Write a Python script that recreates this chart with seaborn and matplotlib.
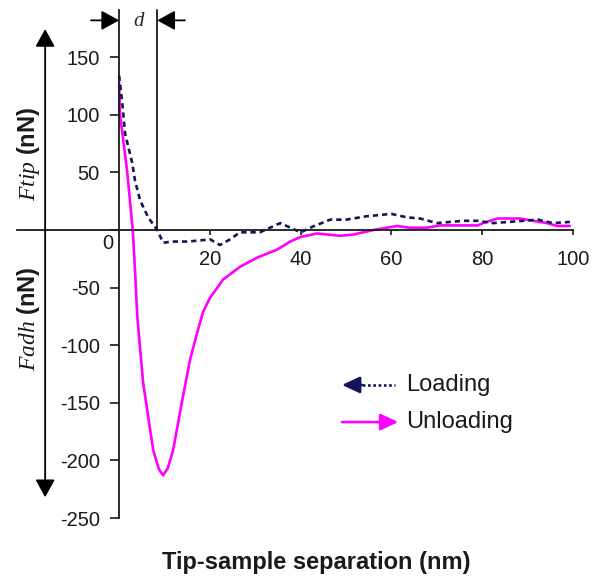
import matplotlib
matplotlib.use("Agg")
import matplotlib.pyplot as plt
import seaborn as sns
import pandas as pd

# --- valores (separação em nm, força em nN) ---
loading_x = [0, 0.7, 1.3, 2.9, 3.5, 4.6, 6.4, 8.4, 9.7, 12, 15, 18, 20, 22.2, 24.5, 26.6,
             31, 35.5, 40, 42.7, 46.5, 50, 54.6, 60, 63.4, 66.3, 70, 72.9, 75.8, 78.9,
             82.4, 85.7, 89, 92.3, 95.6, 99.3]
loading_y = [134, 110, 84, 58, 43, 26, 11, 0, -11, -10, -10, -9, -8, -13, -8, -2,
             -2, 6, -2, 3, 9, 9, 12, 14, 11, 10, 6, 7, 8, 8,
             6, 7, 8, 9, 6, 7]

unloading_x = [0, 0.2, 1.8, 3.0, 3.5, 4, 5.3, 7.5, 8.8, 9.7, 10.7, 11.9, 13.9, 15.6, 17.2,
               18.5, 20, 22.9, 26.6, 30.4, 34.8, 37.7, 40, 43.6, 48.7, 51.5, 56, 61.2, 64,
               67.8, 70.7, 79, 80.2, 83.3, 88.3, 91.2, 94.3, 96.5, 99.3]
unloading_y = [128, 100, 50, 0, -35, -75, -133, -191, -208, -213, -207, -191, -148, -113, -89,
               -71, -59, -43, -32, -24, -17, -10, -6, -3, -5, -4, 0, 3.5, 2,
               2, 4, 4, 6, 10, 10, 8, 6, 3.5, 3.5]

x_ticks = [20, 40, 60, 80, 100]
y_ticks = [-250, -200, -150, -100, -50, 0, 50, 100, 150]
d_gap = 8.4

legend_labels = ['Loading', 'Unloading']

# --- estilo ---
sns.set_theme(style="ticks")
plt.rcParams['font.family'] = ['Liberation Sans', 'DejaVu Sans']
plt.rcParams['mathtext.fontset'] = 'custom'
plt.rcParams['mathtext.it'] = 'Liberation Serif:italic'

navy = '#14145a'
magenta = '#ff00ff'
ink = '#1a1a1a'

fig = plt.figure(figsize=(6, 5.79), dpi=100)
ax = fig.add_axes([17 / 600, 61 / 579, 556 / 600, 508 / 579])

df_load = pd.DataFrame({'sep': loading_x, 'force': loading_y})
df_unload = pd.DataFrame({'sep': unloading_x, 'force': unloading_y})

sns.lineplot(data=df_unload, x='sep', y='force', ax=ax, color=magenta, lw=1.9,
             sort=False, estimator=None)
sns.lineplot(data=df_load, x='sep', y='force', ax=ax, color=navy, lw=1.9,
             linestyle=(0, (2.0, 1.5)), sort=False, estimator=None)

# --- eixos cruzando na origem ---
ax.set_xlim(-22.5, 100)
ax.set_ylim(-250, 191)
for side in ['top', 'right']:
    ax.spines[side].set_visible(False)
ax.spines['left'].set_position(('data', 0))
ax.spines['bottom'].set_position(('data', 0))
for side in ['left', 'bottom']:
    ax.spines[side].set_color(ink)
    ax.spines[side].set_linewidth(1.3)

ax.set_xticks(x_ticks)
ax.set_yticks(y_ticks)
ax.set_yticklabels([str(v) if v != 0 else '' for v in y_ticks])
ax.tick_params(axis='x', direction='out', length=3.6, width=1.2, pad=11,
               labelsize=14.5, color=ink, labelcolor=ink)
ax.tick_params(axis='y', direction='out', length=6.5, width=1.2, pad=7.5,
               labelsize=14.5, color=ink, labelcolor=ink)
ax.set_xlabel('')
ax.set_ylabel('')
ax.grid(False)
ax.text(-1.3, -11.5, '0', fontsize=14.5, color=ink, ha='right', va='center')

# --- marcação da distância d ---
ax.plot([d_gap, d_gap], [0, 191], color=ink, lw=1.3, clip_on=False)
head = '-|>,head_length=0.6,head_width=0.33'
ax.annotate('', xy=(0, 182), xytext=(-6.2, 182),
            arrowprops=dict(arrowstyle=head, mutation_scale=18, color='black', lw=1.3,
                            shrinkA=0, shrinkB=0))
ax.annotate('', xy=(d_gap, 182), xytext=(14.5, 182),
            arrowprops=dict(arrowstyle=head, mutation_scale=18, color='black', lw=1.3,
                            shrinkA=0, shrinkB=0))
ax.text(4.2, 181, 'd', family='Liberation Serif', style='italic', fontsize=15,
        ha='center', va='center')

# --- seta dupla Ftip / Fadh ---
ax.annotate('', xy=(-16.3, 174.5), xytext=(-16.3, -232),
            arrowprops=dict(arrowstyle='<|-|>,head_length=0.6,head_width=0.33',
                            mutation_scale=18, color='black', lw=1.3,
                            shrinkA=0, shrinkB=0))
fig.text(29 / 600, 1 - 154 / 579, r'$\mathit{Ftip}$ (nN)', rotation=90,
         ha='center', va='center', fontsize=17, fontweight='bold', color=ink)
fig.text(29 / 600, 1 - 319 / 579, r'$\mathit{Fadh}$ (nN)', rotation=90,
         ha='center', va='center', fontsize=17, fontweight='bold', color=ink)

# --- legenda com setas ---
ax.plot([52.5, 60.8], [-134.5, -134.5], color=navy, lw=1.9, linestyle=(0, (1, 1)))
ax.annotate('', xy=(49.1, -134.5), xytext=(53.5, -134.5),
            arrowprops=dict(arrowstyle='-|>,head_length=0.6,head_width=0.28',
                            mutation_scale=18, color=navy, lw=1.9,
                            shrinkA=0, shrinkB=0))
ax.annotate('', xy=(61.5, -166.7), xytext=(49.1, -166.7),
            arrowprops=dict(arrowstyle='-|>,head_length=0.6,head_width=0.28',
                            mutation_scale=18, color=magenta, lw=1.9,
                            shrinkA=0, shrinkB=0))
ax.text(63.2, -134.5, legend_labels[0], fontsize=17, color=ink, ha='left', va='center')
ax.text(63.2, -166.7, legend_labels[1], fontsize=17, color=ink, ha='left', va='center')

fig.text(316.5 / 600, 1 - 562 / 579, 'Tip-sample separation (nm)', ha='center',
         va='center', fontsize=17, fontweight='bold', color=ink)

plt.savefig('out.png', dpi=100)
plt.close()
